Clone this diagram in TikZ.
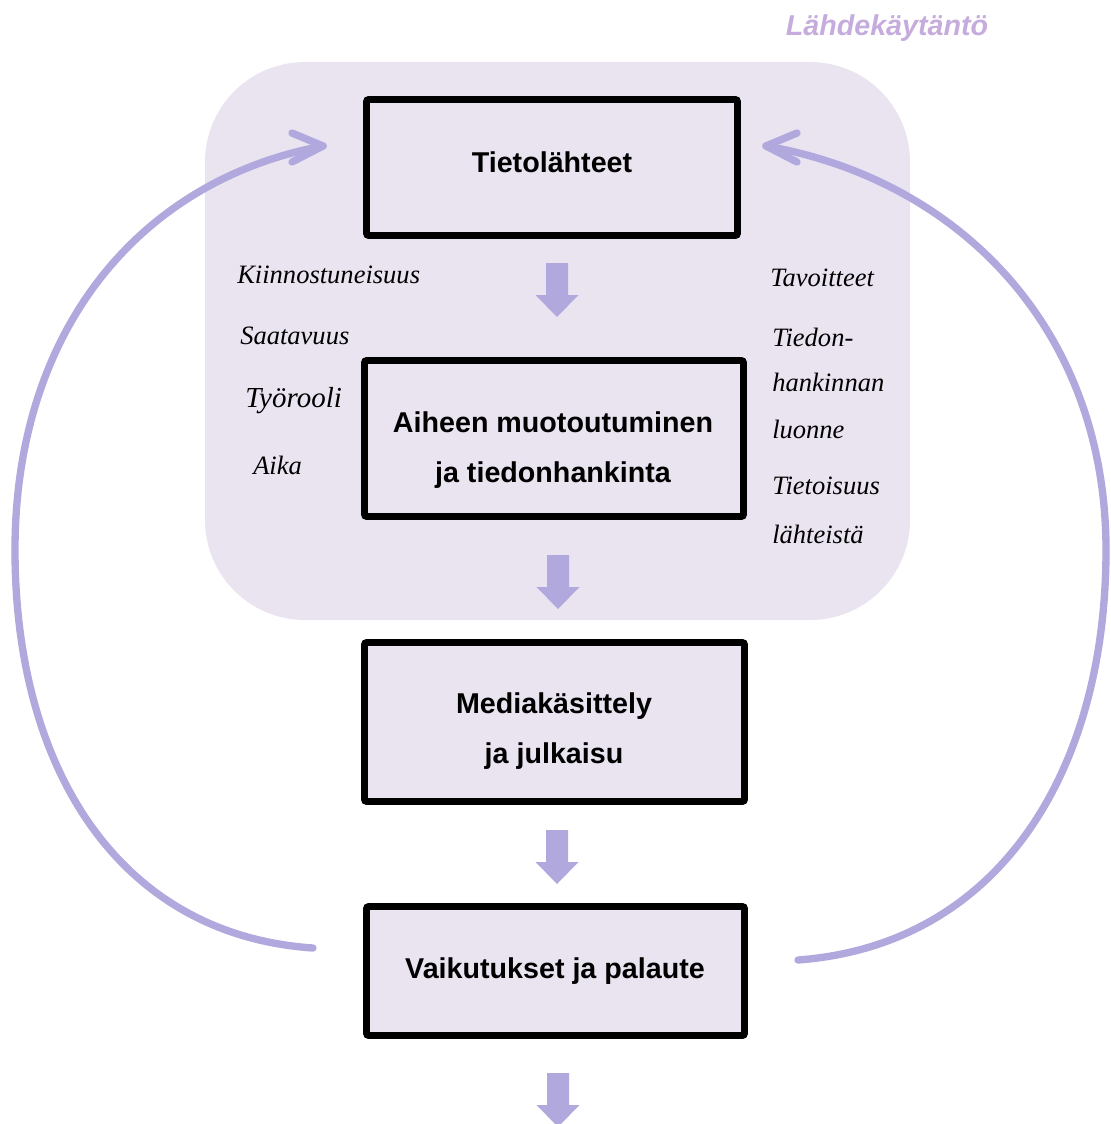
\documentclass[tikz,border=0pt]{standalone}
\usepackage{fontspec}
\setmainfont{Liberation Serif}
\newfontfamily\arialf{Liberation Sans}
\usetikzlibrary{arrows.meta}
\definecolor{lav}{RGB}{234,227,240}
\definecolor{arr}{RGB}{177,168,222}
\definecolor{ttl}{RGB}{198,172,220}
\tikzset{
 stagebox/.style={draw=black, line width=5pt, fill=lav, rounded corners=1.5pt, inner sep=0pt, outer sep=0pt},
 stagetext/.style={inner sep=0pt, align=center, font=\arialf\bfseries\fontsize{21.5}{38}\selectfont},
 factor/.style={anchor=west, inner sep=0pt, font=\itshape\fontsize{19.9}{24}\selectfont},
 loopline/.style={draw=arr, line width=5.5pt, line cap=round, line join=round},
 downarrow/.pic={\fill[arr] (-11,0) -- (11,0) -- (11,32) -- (21.5,32) -- (0,54) -- (-21.5,32) -- (-11,32) -- cycle;}
}
\begin{document}
\begin{tikzpicture}[x=0.75pt,y=-0.75pt]
\useasboundingbox (0,0) rectangle (1110,1124);
% background panel
\fill[lav, rounded corners=75pt] (205,62) rectangle (910,620);
\node[inner sep=0pt, text=ttl, font=\arialf\bfseries\itshape\fontsize{21.5}{26}\selectfont] (title) at (887,28) {Lähdekäytäntö};
% stage boxes
\node[stagebox, minimum width=278.25pt, minimum height=102pt] (tieto) at (552,167.5) {};
\node[stagebox, minimum width=284.25pt, minimum height=117pt] (aihe) at (554,438.5) {};
\node[stagebox, minimum width=285pt, minimum height=119.25pt] (media) at (554.5,722) {};
\node[stagebox, minimum width=283.5pt, minimum height=96.75pt] (vaik) at (555.5,971) {};
\node[stagetext] (tieto-t) at (552,162) {Tietolähteet};
\node[stagetext] (aihe-t) at (553,450) {Aiheen muotoutuminen\\ja tiedonhankinta};
\node[stagetext] (media-t) at (554,731) {Mediakäsittely\\ja julkaisu};
\node[stagetext] (vaik-t) at (555,971) {Vaikutukset ja palaute};
% block arrows
\pic at (557,263) {downarrow};
\pic at (558,555) {downarrow};
\pic at (557,830) {downarrow};
\pic at (558,1073) {downarrow};
% factor labels
\node[factor] (f1) at (237,275) {Kiinnostuneisuus};
\node[factor] (f2) at (240,336) {Saatavuus};
\node[factor, font=\itshape\fontsize{21.75}{26}\selectfont] (f3) at (245,401) {Työrooli};
\node[factor] (f4) at (253,465) {Aika};
\node[factor] (g1) at (770,278) {Tavoitteet};
\node[factor] (g2) at (772,337) {Tiedon-};
\node[factor] (g3) at (772,382) {hankinnan};
\node[factor] (g4) at (772,429) {luonne};
\node[factor] (g5) at (772,486) {Tietoisuus};
\node[factor] (g6) at (772,534) {lähteistä};
% feedback loops
\coordinate (lstart) at (313,948);
\coordinate (ltip) at (323,146);
\coordinate (rstart) at (798,960);
\coordinate (rtip) at (766,146);
\draw[loopline] (lstart) .. controls (120,935) and (15,770) .. (15,550) .. controls (15,330) and (140,180) .. (ltip);
\draw[loopline] (292,133) -- (ltip) -- (292,162);
\draw[loopline] (rstart) .. controls (1000,945) and (1106,770) .. (1106,550) .. controls (1106,330) and (960,180) .. (rtip);
\draw[loopline] (797,133) -- (rtip) -- (797,162);
\end{tikzpicture}
\end{document}
